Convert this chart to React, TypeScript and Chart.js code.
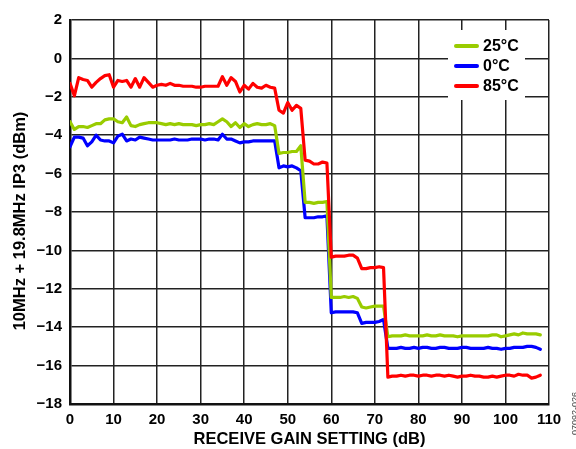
import React, { useEffect, useRef } from "react";
import { Chart, registerables } from "chart.js";

Chart.register(...registerables);

// Receive gain setting (dB)
const gainSetting: number[] = [
  0, 1, 2, 3, 4, 5, 6, 7, 8, 9,
  10, 11, 12, 13, 14, 15, 16, 17, 18, 19,
  20, 21, 22, 23, 24, 25, 26, 27, 28, 29,
  30, 31, 32, 33, 34, 35, 36, 37, 38, 39,
  40, 41, 42, 43, 44, 45, 46, 47, 48, 49,
  50, 51, 52, 53, 54, 55, 56, 57, 58, 59,
  60, 61, 62, 63, 64, 65, 66, 67, 68, 69,
  70, 71, 72, 73, 74, 75, 76, 77, 78, 79,
  80, 81, 82, 83, 84, 85, 86, 87, 88, 89,
  90, 91, 92, 93, 94, 95, 96, 97, 98, 99,
  100, 101, 102, 103, 104, 105, 106, 107, 108,
];

const ip3_25C: number[] = [
  -3.3, -3.7, -3.55, -3.55, -3.6, -3.5, -3.4, -3.4, -3.2, -3.15,
  -3.15, -3.3, -3.35, -3.05, -3.5, -3.55, -3.45, -3.4, -3.35, -3.35,
  -3.35, -3.4, -3.45, -3.4, -3.45, -3.4, -3.45, -3.45, -3.45, -3.5,
  -3.45, -3.45, -3.4, -3.45, -3.3, -3.15, -3.3, -3.55, -3.35, -3.6,
  -3.4, -3.55, -3.45, -3.4, -3.45, -3.45, -3.4, -3.5, -4.95, -4.9,
  -4.9, -4.85, -4.85, -4.55, -7.5, -7.5, -7.55, -7.5, -7.5, -7.45,
  -12.45, -12.45, -12.45, -12.4, -12.45, -12.4, -12.5, -12.95, -13.0, -12.95,
  -12.9, -12.9, -12.9, -14.5, -14.45, -14.45, -14.45, -14.4, -14.45, -14.45,
  -14.45, -14.45, -14.4, -14.45, -14.45, -14.4, -14.45, -14.45, -14.45, -14.5,
  -14.45, -14.45, -14.45, -14.45, -14.45, -14.45, -14.45, -14.4, -14.4, -14.5,
  -14.45, -14.4, -14.35, -14.4, -14.3, -14.35, -14.35, -14.35, -14.4,
];

const ip3_0C: number[] = [
  -4.6, -4.1, -4.1, -4.15, -4.55, -4.35, -4.0, -4.25, -4.3, -4.3,
  -4.4, -4.05, -3.95, -4.3, -4.2, -4.25, -4.1, -4.15, -4.2, -4.25,
  -4.25, -4.25, -4.25, -4.25, -4.2, -4.25, -4.25, -4.25, -4.2, -4.2,
  -4.2, -4.25, -4.2, -4.2, -4.25, -3.95, -4.2, -4.2, -4.3, -4.4,
  -4.35, -4.35, -4.3, -4.3, -4.3, -4.3, -4.3, -4.3, -5.7, -5.6,
  -5.65, -5.6, -5.7, -5.85, -8.3, -8.3, -8.3, -8.25, -8.25, -8.2,
  -13.25, -13.2, -13.2, -13.2, -13.2, -13.2, -13.25, -13.8, -13.75, -13.75,
  -13.75, -13.7, -13.6, -15.1, -15.1, -15.1, -15.05, -15.1, -15.1, -15.05,
  -15.1, -15.05, -15.05, -15.1, -15.1, -15.05, -15.05, -15.1, -15.1, -15.1,
  -15.05, -15.05, -15.1, -15.1, -15.1, -15.1, -15.05, -15.1, -15.1, -15.15,
  -15.1, -15.1, -15.05, -15.05, -15.05, -15.0, -15.0, -15.05, -15.15,
];

const ip3_85C: number[] = [
  -1.3, -1.95, -1.0, -1.1, -1.15, -1.5, -1.25, -1.05, -0.9, -0.85,
  -1.5, -1.15, -1.2, -1.15, -1.5, -1.05, -1.5, -1.0, -1.25, -1.5,
  -1.4, -1.35, -1.4, -1.3, -1.4, -1.4, -1.45, -1.45, -1.45, -1.5,
  -1.5, -1.45, -1.45, -1.45, -1.45, -0.95, -1.4, -1.0, -1.2, -1.75,
  -1.4, -1.6, -1.3, -1.5, -1.55, -1.4, -1.5, -1.55, -2.7, -2.85,
  -2.3, -2.7, -2.45, -2.6, -5.3, -5.35, -5.5, -5.5, -5.4, -5.45,
  -10.35, -10.3, -10.3, -10.3, -10.25, -10.25, -10.4, -10.95, -10.95, -10.9,
  -10.9, -10.85, -10.9, -16.6, -16.55, -16.55, -16.5, -16.55, -16.5, -16.5,
  -16.55, -16.5, -16.5, -16.55, -16.5, -16.5, -16.55, -16.5, -16.55, -16.6,
  -16.55, -16.55, -16.5, -16.55, -16.55, -16.6, -16.6, -16.55, -16.6, -16.55,
  -16.5, -16.5, -16.55, -16.45, -16.5, -16.5, -16.65, -16.6, -16.5,
];

const xTicks: number[] = [0, 10, 20, 30, 40, 50, 60, 70, 80, 90, 100, 110];
const yTicks: number[] = [-18, -16, -14, -12, -10, -8, -6, -4, -2, 0, 2];

const seriesLabels: string[] = ["25°C", "0°C", "85°C"];
const seriesColors: string[] = ["#99cc00", "#0000ff", "#ff0000"];
const xTitle = "RECEIVE GAIN SETTING (dB)";
const yTitle = "10MHz + 19.8MHz IP3 (dBm)";
const figureCode = "07092-026";

const FONT = "'Liberation Sans', Arial, Helvetica, sans-serif";

const fmt = (v: number) => (v < 0 ? "\u2212" + Math.abs(v) : String(v));

const legendPlugin = {
  id: "boxLegend",
  afterDatasetsDraw(chart: any) {
    const ctx = chart.ctx as CanvasRenderingContext2D;
    ctx.save();
    ctx.fillStyle = "#ffffff";
    ctx.fillRect(448, 30, 77, 70);
    const rows = [46, 66, 86];
    chart.data.datasets.forEach((ds: any, i: number) => {
      const y = rows[i];
      ctx.strokeStyle = ds.borderColor;
      ctx.lineWidth = 4;
      ctx.lineCap = "round";
      ctx.beginPath();
      ctx.moveTo(456, y);
      ctx.lineTo(477, y);
      ctx.stroke();
      ctx.fillStyle = "#000";
      ctx.font = `bold 16px ${FONT}`;
      ctx.textAlign = "left";
      ctx.textBaseline = "middle";
      ctx.fillText(ds.label, 483, y + 1);
    });
    ctx.restore();
  },
  afterDraw(chart: any) {
    const ctx = chart.ctx as CanvasRenderingContext2D;
    // rotated y-axis title
    ctx.save();
    ctx.translate(20, 221);
    ctx.rotate(-Math.PI / 2);
    ctx.font = `bold 16.5px ${FONT}`;
    ctx.fillStyle = "#000";
    ctx.textAlign = "center";
    ctx.textBaseline = "middle";
    ctx.fillText(yTitle, 0, 0);
    ctx.restore();
    // figure code
    ctx.save();
    ctx.translate(578, 392);
    ctx.rotate(-Math.PI / 2);
    ctx.font = `9px ${FONT}`;
    ctx.fillStyle = "#444";
    ctx.textAlign = "right";
    ctx.textBaseline = "alphabetic";
    ctx.fillText(figureCode, 0, 0);
    ctx.restore();
  },
};

export default function App() {
  const ref = useRef<HTMLCanvasElement | null>(null);

  useEffect(() => {
    if (!ref.current) return;
    const series = [ip3_25C, ip3_0C, ip3_85C];
    const orders = [1, 2, 0];
    const chart = new Chart(ref.current, {
      type: "line",
      data: {
        labels: gainSetting,
        datasets: series.map((s, i) => ({
          label: seriesLabels[i],
          data: s.map((v, j) => ({ x: gainSetting[j], y: v })),
          borderColor: seriesColors[i],
          backgroundColor: seriesColors[i],
          borderWidth: 3.2,
          pointRadius: 0,
          tension: 0,
          order: orders[i],
          borderJoinStyle: "round" as const,
          borderCapStyle: "round" as const,
        })),
      },
      options: {
        responsive: false,
        animation: false,
        events: [],
        layout: { padding: { top: 20, right: 27, left: 0, bottom: 0 } },
        plugins: {
          legend: { display: false },
          tooltip: { enabled: false },
        },
        scales: {
          x: {
            type: "linear",
            min: 0,
            max: 110,
            afterBuildTicks: (s: any) => {
              s.ticks = xTicks.map((v) => ({ value: v }));
            },
            afterFit: (s: any) => {
              s.height = 45;
            },
            ticks: {
              callback: (v: any) => fmt(Number(v)),
              color: "#000",
              font: { family: FONT, size: 15, weight: "bold" },
              padding: 7,
              maxRotation: 0,
            },
            grid: { color: "#222", lineWidth: 1.5, drawTicks: false },
            border: { display: true, color: "#111", width: 2.5 },
            title: {
              display: true,
              text: xTitle,
              color: "#000",
              font: { family: FONT, size: 16.5, weight: "bold" },
              padding: { top: 0, bottom: 0 },
            },
          },
          y: {
            type: "linear",
            min: -18,
            max: 2,
            afterBuildTicks: (s: any) => {
              s.ticks = yTicks.map((v) => ({ value: v }));
            },
            afterFit: (s: any) => {
              s.width = 70;
            },
            ticks: {
              callback: (v: any) => fmt(Number(v)),
              color: "#000",
              font: { family: FONT, size: 15, weight: "bold" },
              padding: 8,
            },
            grid: { color: "#222", lineWidth: 1.5, drawTicks: false },
            border: { display: true, color: "#111", width: 2.5 },
            title: { display: false },
          },
        },
      },
      plugins: [legendPlugin],
    });
    return () => chart.destroy();
  }, []);

  return (
    <div style={{ position: "absolute", left: 0, top: 0, width: 576, height: 449, background: "#fff" }}>
      <canvas ref={ref} width={576} height={449} style={{ display: "block" }} />
    </div>
  );
}
